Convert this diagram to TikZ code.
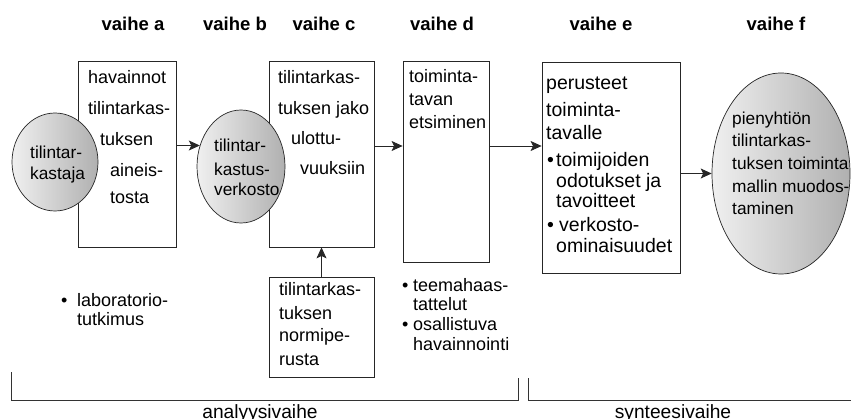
\documentclass[tikz,border=0pt]{standalone}
\usepackage{fontspec}
\setmainfont{Liberation Sans}
\usetikzlibrary{arrows.meta,shapes.geometric}
\begin{document}
\begin{tikzpicture}[x=1pt,y=-1pt,
  frame/.style={draw=black!85,line width=0.8pt,fill=white,inner sep=0pt},
  blob/.style={ellipse,draw=black!85,line width=0.7pt,inner sep=0pt,
    left color=gray!12,right color=gray!62},
  txt/.style={anchor=base west,inner sep=0pt,font=\fontsize{18}{20}\selectfont},
  big/.style={txt,font=\fontsize{19.5}{22}\selectfont},
  small/.style={txt,font=\fontsize{17.3}{20}\selectfont},
  head/.style={anchor=base,inner sep=0pt,font=\fontsize{18.5}{20}\selectfont\bfseries},
  phase/.style={anchor=base,inner sep=0pt,font=\fontsize{19.2}{21}\selectfont},
  flow/.style={draw=black!85,line width=0.8pt,
    -{Stealth[length=11pt,width=10pt,inset=2.5pt]}},
  bracket/.style={draw=black!80,line width=0.8pt}]

\useasboundingbox (0,0) rectangle (851,419);

% phase headings
\foreach \xx/\t [count=\k] in {133/vaihe a, 235/vaihe b, 324/vaihe c,
    442/vaihe d, 601/vaihe e, 776/vaihe f}
  \node[head] (h\k) at (\xx,31) {\t};

% rectangular stages
\node[frame,minimum width=98pt,minimum height=186pt] (boxa) at (127,154) {};
\node[frame,minimum width=105pt,minimum height=186pt] (boxc) at (321.5,154) {};
\node[frame,minimum width=86pt,minimum height=201pt] (boxd) at (446,161.5) {};
\node[frame,minimum width=138pt,minimum height=211pt] (boxe) at (611,167.5) {};
\node[frame,minimum width=105pt,minimum height=100pt] (boxn) at (321.5,327) {};

% shaded ellipses (drawn over the box edges)
\node[blob,minimum width=86pt,minimum height=98pt] (ca) at (55,162) {};
\node[blob,minimum width=88pt,minimum height=113pt] (cb) at (241,166.5) {};
\node[blob,minimum width=138pt,minimum height=201pt] (ef) at (781,173.5) {};

% texts of box a
\foreach \xx/\yy/\t [count=\k] in {88/84/havainnot, 88/115/tilintarkas-,
    100/146/tuksen, 110/177/aineis-, 110/204/tosta}
  \node[txt] (ta\k) at (\xx,\yy) {\t};

% texts of the ellipses
\foreach \xx/\yy/\t [count=\k] in {30/159/tilintar-, 30/180/kastaja}
  \node[small] (tca\k) at (\xx,\yy) {\t};
\foreach \xx/\yy/\t [count=\k] in {214/152/tilintar-, 214/176/kastus-, 214/196/verkosto}
  \node[small] (tcb\k) at (\xx,\yy) {\t};
\foreach \xx/\yy/\t [count=\k] in {732/125/pienyhtiön, 732/147/tilintarkas-,
    732/170/tuksen toiminta, 732/193/mallin muodos-, 732/215/taminen}
  \node[small] (tef\k) at (\xx,\yy) {\t};

% texts of box c and box d
\foreach \xx/\yy/\t [count=\k] in {278/84/tilintarkas-, 278/115/tuksen jako,
    291/145/ulottu-, 300/175/vuuksiin}
  \node[txt] (tc\k) at (\xx,\yy) {\t};
\foreach \xx/\yy/\t [count=\k] in {409/83/toiminta-, 409/106/tavan, 409/129/etsiminen}
  \node[txt] (td\k) at (\xx,\yy) {\t};

% texts of box e
\foreach \xx/\yy/\t [count=\k] in {546/90/perusteet, 546/117/toiminta-,
    546/140/tavalle, 547/167/•, 556/167/toimijoiden, 556/188/odotukset ja,
    556/208/tavoitteet, 547/232/•, 559/232/verkosto-, 556/253/ominaisuudet}
  \node[big] (te\k) at (\xx,\yy) {\t};

% texts of the lower box
\foreach \xx/\yy/\t [count=\k] in {279/296/tilintarkas-, 279/320/tuksen,
    279/342/normipe-, 279/366/rusta}
  \node[txt] (tn\k) at (\xx,\yy) {\t};

% method lists
\foreach \xx/\yy/\t [count=\k] in {61/307/•, 77/307/laboratorio-, 77/326/tutkimus}
  \node[txt] (ml\k) at (\xx,\yy) {\t};
\foreach \xx/\yy/\t [count=\k] in {402/292/•, 413/292/teemahaas-, 413/311/tattelut,
    402/331/•, 413/331/osallistuva, 413/351/havainnointi}
  \node[txt] (md\k) at (\xx,\yy) {\t};

% flow arrows
\coordinate (row) at (0,146);
\draw[flow] (boxa.east |- cb.153) -- (cb.153);
\draw[flow] (boxc.east |- row) -- (boxd.west |- row);
\draw[flow] (boxd.east |- row) -- (boxe.west |- row);
\draw[flow] (boxe.east |- ef.west) -- (ef.west);
\draw[flow] (boxn.north) -- (boxc.south);

% phase brackets
\draw[bracket] (11,372) -- (11,400.5) -- (518,400.5) -- (518,378);
\draw[bracket] (528,378) -- (528,400.5) -- (851,400.5);
\node[phase] (pa) at (260,418) {analyysivaihe};
\node[phase] (ps) at (673,418) {synteesivaihe};
\end{tikzpicture}
\end{document}
